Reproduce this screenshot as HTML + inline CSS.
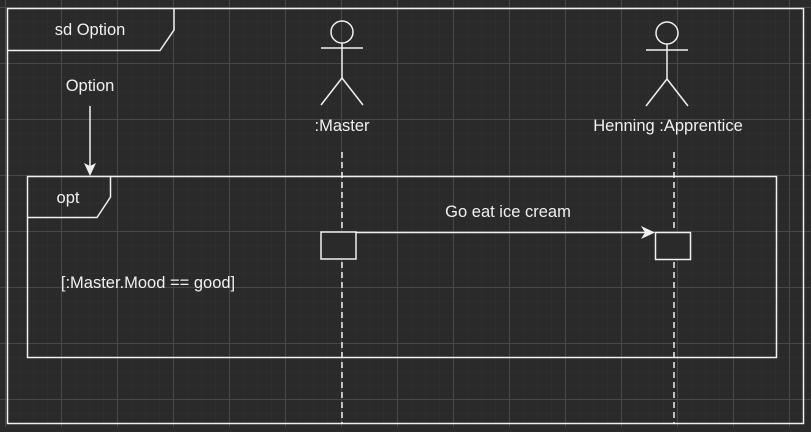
<!DOCTYPE html>
<html><head><meta charset="utf-8"><style>
body{margin:0;width:811px;height:427px;overflow:hidden;background:#2a2a2a;}
</style></head><body>
<svg width="811" height="427" xmlns="http://www.w3.org/2000/svg" font-family="Liberation Sans, sans-serif">
<defs>
<pattern id="mn" width="14" height="14" patternUnits="userSpaceOnUse" x="5" y="7"><path d="M0 0H14M0 0V14" stroke="#333333" stroke-width="1" fill="none"/></pattern>
<pattern id="mj" width="56" height="56" patternUnits="userSpaceOnUse" x="5" y="7"><path d="M0 0.5H56M0.5 0V56" stroke="#484848" stroke-width="1" fill="none"/></pattern>
</defs>
<rect width="811" height="427" fill="#2a2a2a"/>
<rect width="811" height="427" fill="url(#mn)"/>
<rect width="811" height="427" fill="url(#mj)"/>
<g stroke="#f0f0f0" stroke-width="1.5" fill="none">
<rect x="7.5" y="8.5" width="796" height="415"/>
<path d="M7.5 50.5H160L174 30V8.5"/>
<rect x="27.5" y="176.5" width="749" height="181"/>
<path d="M27.5 217.5H97L110.5 197V176.5"/>
<circle cx="342" cy="32" r="11"/>
<path d="M321 48H363M342 43V78L321 105M342 78L363 105"/>
<circle cx="667" cy="33" r="11"/>
<path d="M646 50H688M667 44V79L646 106M667 79L688 106"/>
<path d="M90 106V170"/>
<path d="M342 152V424M674 152V424" stroke-dasharray="6 4"/>
<rect x="321" y="232" width="35" height="27" fill="#2a2a2a"/>
<rect x="655.5" y="232.5" width="35" height="27" fill="#2a2a2a"/>
<path d="M356 232.5H646"/>
</g>
<path d="M655 232.5L641 226L645 232.5L641 239Z" fill="#f0f0f0"/>
<path d="M90 176L84 163L90 166L96 163Z" fill="#f0f0f0"/>
<g fill="#f0f0f0" font-size="16.5" text-anchor="middle">
<text x="90" y="35">sd Option</text>
<text x="90" y="91">Option</text>
<text x="342" y="131">:Master</text>
<text x="668" y="131">Henning :Apprentice</text>
<text x="68" y="203">opt</text>
<text x="508" y="217">Go eat ice cream</text>
<text x="148" y="288">[:Master.Mood == good]</text>
</g>
</svg>
</body></html>
